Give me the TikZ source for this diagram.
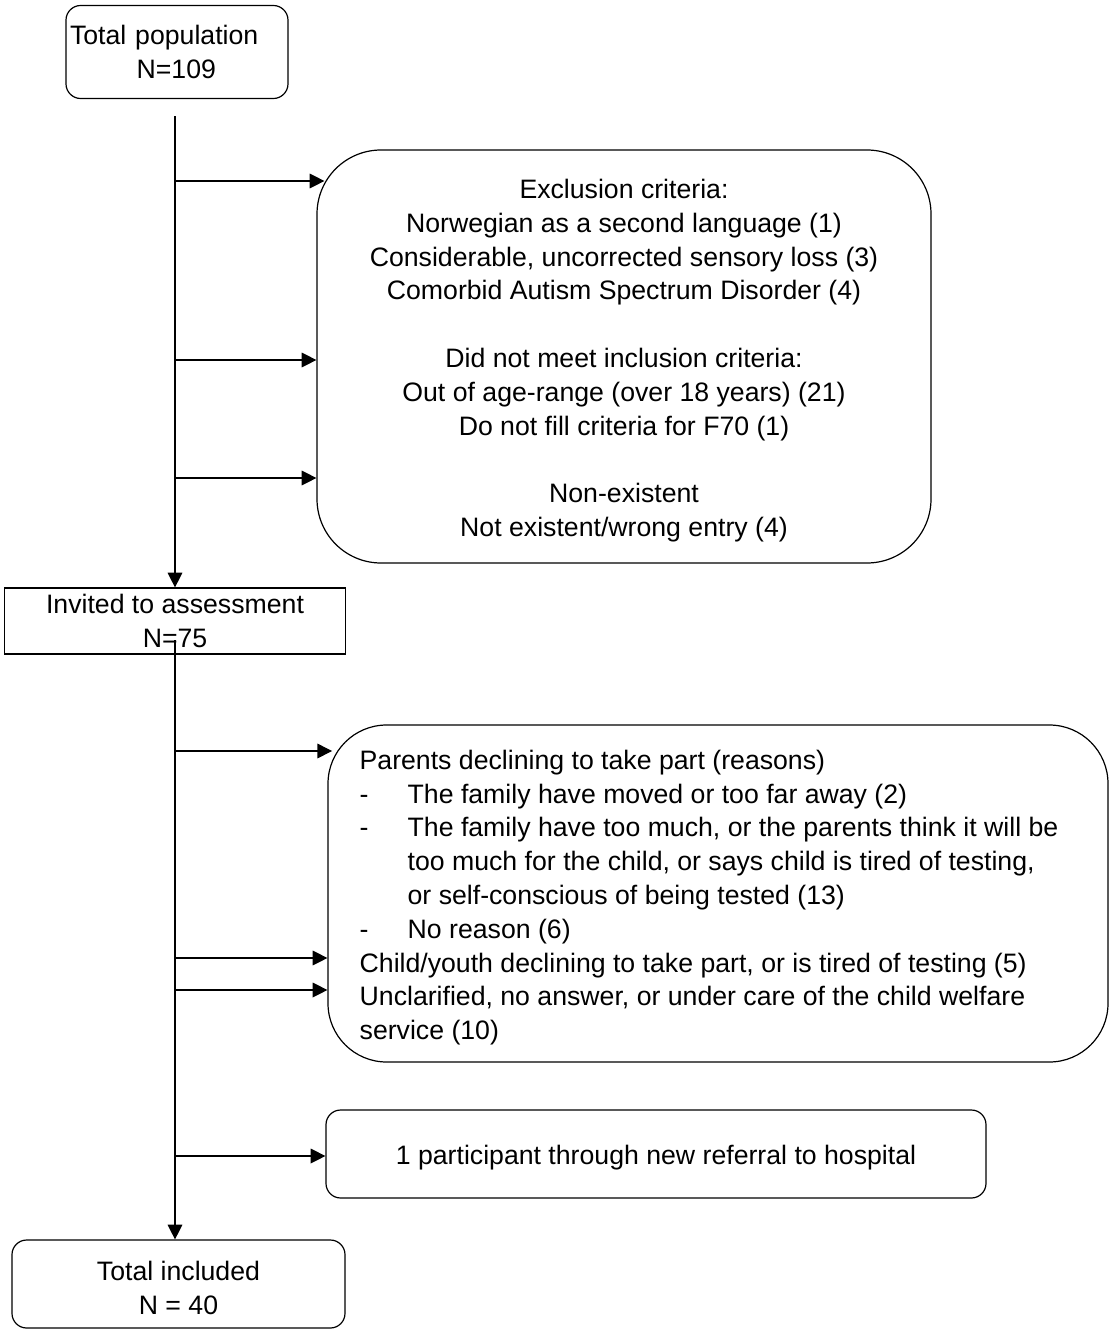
\documentclass[tikz,border=0pt]{standalone}
\usepackage{fontspec}
\setmainfont{Liberation Sans}
\usetikzlibrary{arrows.meta}
\newcommand{\liftline}{\rule{0pt}{20.5pt}}
\begin{document}
\begin{tikzpicture}[x=0.75pt,y=-0.75pt,
  every node/.style={font=\fontsize{20pt}{25.35pt}\selectfont, inner sep=0pt},
  lines/.style={line width=0.9pt},
  arr/.style={lines, -{Triangle[length=11pt,width=11pt]}},
  roundbox/.style={draw, line width=0.9pt, rounded corners=11pt, align=center},
  bigbox/.style={draw, line width=0.9pt, align=center},
]
\useasboundingbox (0,0) rectangle (1109,1331);

% boxes
\node[roundbox, minimum width=166.5pt, minimum height=69.75pt, text width=160.5pt, align=left]
  (total) at (177,52) {Total population\\\hspace*{50pt}N=109};
\node[bigbox, minimum width=255.75pt, minimum height=49.5pt]
  (inv) at (175,621) {Invited to assessment\\N=75};
\node[roundbox, minimum width=249.75pt, minimum height=66pt]
  (incl) at (178.5,1284) {\liftline Total included\\N = 40};
\node[bigbox, rounded corners=48pt, minimum width=460.5pt, minimum height=309.75pt]
  (excl) at (624,356.5) {\liftline Exclusion criteria:\\
    Norwegian as a second language (1)\\
    Considerable, uncorrected sensory loss (3)\\
    Comorbid Autism Spectrum Disorder (4)\\[25.35pt]
    Did not meet inclusion criteria:\\
    Out of age-range (over 18 years) (21)\\
    Do not fill criteria for F70 (1)\\[25.35pt]
    Non-existent\\
    Not existent/wrong entry (4)};
\node[bigbox, rounded corners=44pt, minimum width=585pt, minimum height=252.75pt]
  (parents) at (718,893.5) {};
\node[anchor=west, align=left] (parentstext) at ([xshift=24pt,yshift=-3pt]parents.west)
  {Parents declining to take part (reasons)\\
   \makebox[36pt][l]{-}The family have moved or too far away (2)\\
   \makebox[36pt][l]{-}The family have too much, or the parents think it will be\\
   \hspace*{36pt}too much for the child, or says child is tired of testing,\\
   \hspace*{36pt}or self-conscious of being tested (13)\\
   \makebox[36pt][l]{-}No reason (6)\\
   Child/youth declining to take part, or is tired of testing (5)\\
   Unclarified, no answer, or under care of the child welfare\\
   service (10)};
\node[roundbox, minimum width=495pt, minimum height=66pt]
  (referral) at (656,1154) {\liftline 1 participant through new referral to hospital};

% trunk coordinates
\coordinate (top) at (175,116);
\coordinate (mid) at (175,640);
\coordinate (b1) at (175,181);
\coordinate (b2) at (175,360);
\coordinate (b3) at (175,478);
\coordinate (b4) at (175,751);
\coordinate (b5) at (175,958);
\coordinate (b6) at (175,990);
\coordinate (b7) at (175,1156);

% trunk
\draw[arr] (top) -- (top |- inv.north);
\draw[arr] (mid) -- (mid |- incl.north);

% side arrows
\draw[arr, shorten >=-6pt] (b1) -- (b1 -| excl.west);
\draw[arr] (b2) -- (b2 -| excl.west);
\draw[arr] (b3) -- (b3 -| excl.west);
\draw[arr, shorten >=-3.5pt] (b4) -- (b4 -| parents.west);
\draw[arr] (b5) -- (b5 -| parents.west);
\draw[arr] (b6) -- (b6 -| parents.west);
\draw[arr] (b7) -- (b7 -| referral.west);
\end{tikzpicture}
\end{document}
